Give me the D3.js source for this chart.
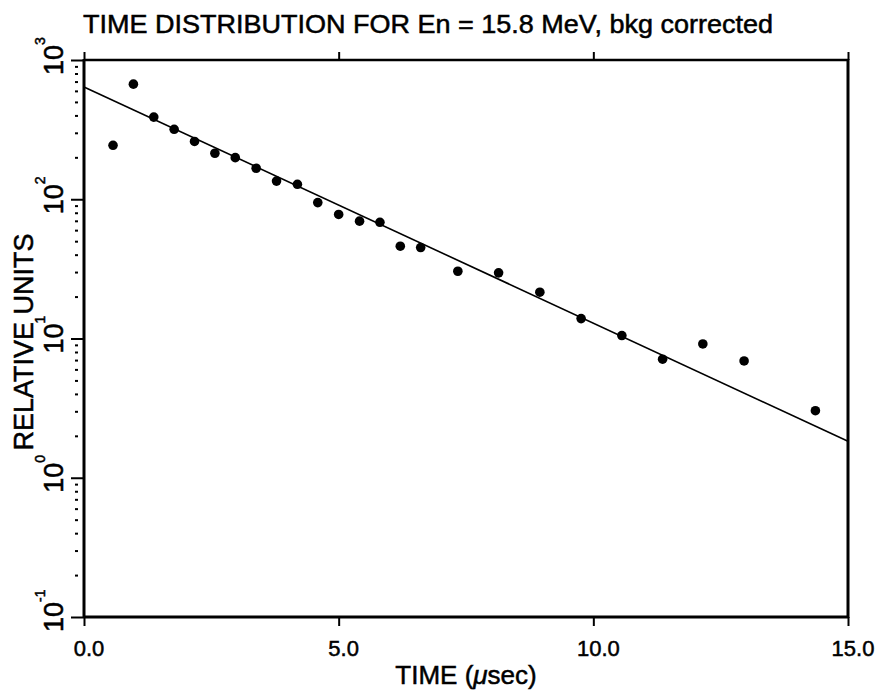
<!DOCTYPE html>
<html>
<head>
<meta charset="utf-8">
<script src="https://cdn.jsdelivr.net/npm/d3@7"></script>
<style>
  body { margin: 0; background: #fff; }
  text { font-family: "Liberation Sans", Arial, sans-serif; fill: #000; stroke: #000; stroke-width: 0.5px; }
</style>
</head>
<body>
<div id="chart"></div>
<script>
//measured points (time in usec, relative units)
var timeValues = [0.57, 0.97, 1.37, 1.77, 2.17, 2.57, 2.97, 3.38, 3.78, 4.19, 4.59, 5.00, 5.41,
  5.81, 6.21, 6.61, 7.34, 8.14, 8.95, 9.76, 10.56, 11.36, 12.15, 12.96, 14.36];
var countValues = [244, 671, 389, 318, 260, 214, 199, 167, 135, 128, 94.6, 77.8, 69.6,
  68.3, 46.0, 45.0, 30.4, 29.6, 21.5, 13.9, 10.5, 7.1, 9.14, 6.9, 3.03];

//exponential fit, end points
var fitTimes = [0, 15];
var fitValues = [640, 1.83];

//tick labels
var xTickValues = [0, 5, 10, 15];
var xTickLabels = ["0.0", "5.0", "10.0", "15.0"];
var yDecades = [0.1, 1, 10, 100, 1000];
var yExponents = ["-1", "0", "1", "2", "3"];

var svgWidth = 876;
var svgHeight = 692;

//plot frame
var x0 = 84, x1 = 848, y0 = 60, y1 = 617;

var svg = d3.select("#chart")
  .append("svg")
  .attr("width", svgWidth)
  .attr("height", svgHeight);

var xScale = d3.scaleLinear().domain([0, 15]).range([x0, x1]);
var yScale = d3.scaleLog().domain([0.1, 1000]).range([y1, y0]);

// bottom ticks
var bottomAxis = d3.axisBottom(xScale).tickValues(xTickValues).tickSize(9).tickFormat("");
svg.append("g")
  .attr("transform", `translate(0, ${y1})`)
  .call(bottomAxis)
  .call(g => g.select(".domain").remove())
  .selectAll("line").attr("stroke", "#000").attr("stroke-width", 2);

// top ticks
var topAxis = d3.axisTop(xScale).tickValues(xTickValues).tickSize(8).tickFormat("");
svg.append("g")
  .attr("transform", `translate(0, ${y0})`)
  .call(topAxis)
  .call(g => g.select(".domain").remove())
  .selectAll("line").attr("stroke", "#000").attr("stroke-width", 2);

// left major ticks
var leftAxis = d3.axisLeft(yScale).tickValues(yDecades).tickSize(13).tickFormat("");
svg.append("g")
  .attr("transform", `translate(${x0}, 0)`)
  .call(leftAxis)
  .call(g => g.select(".domain").remove())
  .selectAll("line").attr("stroke", "#000").attr("stroke-width", 2);

// left minor ticks, short marks off the axis
var minorValues = [];
yDecades.slice(0, 4).forEach(function(d) {
  for (var m = 2; m <= 9; m++) minorValues.push(d * m);
});
var minorAxis = d3.axisLeft(yScale).tickValues(minorValues).tickSize(9).tickFormat("");
svg.append("g")
  .attr("transform", `translate(${x0}, 0)`)
  .call(minorAxis)
  .call(g => g.select(".domain").remove())
  .selectAll("line")
  .attr("x1", -6)
  .attr("stroke", "#000")
  .attr("stroke-width", 2);

// frame
svg.append("line").attr("x1", x0).attr("x2", x1).attr("y1", y0).attr("y2", y0)
  .attr("stroke", "#000").attr("stroke-width", 2.5);
svg.append("line").attr("x1", x0).attr("x2", x1).attr("y1", y1).attr("y2", y1)
  .attr("stroke", "#000").attr("stroke-width", 3);
svg.append("line").attr("x1", x0).attr("x2", x0).attr("y1", y0 - 1).attr("y2", y1 + 1)
  .attr("stroke", "#000").attr("stroke-width", 3);
svg.append("line").attr("x1", x1).attr("x2", x1).attr("y1", y0 - 1).attr("y2", y1 + 1)
  .attr("stroke", "#000").attr("stroke-width", 3);

// x tick labels
svg.selectAll(".xlabel")
  .data(xTickValues)
  .enter()
  .append("text")
  .attr("class", "xlabel")
  .attr("x", d => xScale(d) + 5)
  .attr("y", 656)
  .attr("font-size", "22px")
  .attr("text-anchor", "middle")
  .text((d, i) => xTickLabels[i]);

// y tick labels, rotated 10^n
var yLabels = svg.selectAll(".ylabel")
  .data(yDecades)
  .enter()
  .append("g")
  .attr("class", "ylabel")
  .attr("transform", d => `translate(63, ${yScale(d)}) rotate(-90)`);

yLabels.append("text")
  .attr("x", 0)
  .attr("y", 0)
  .attr("font-size", "27px")
  .attr("text-anchor", "middle")
  .text("10");

yLabels.append("text")
  .attr("x", 15)
  .attr("y", -18)
  .attr("font-size", "14px")
  .text((d, i) => yExponents[i]);

// fit line
var fitLine = d3.line()
  .x(d => xScale(d[0]))
  .y(d => yScale(d[1]));

svg.append("path")
  .datum(fitTimes.map((t, i) => [t, fitValues[i]]))
  .attr("d", fitLine)
  .attr("fill", "none")
  .attr("stroke", "#000")
  .attr("stroke-width", 1.6);

// points
svg.selectAll("circle")
  .data(timeValues)
  .enter()
  .append("circle")
  .attr("cx", d => xScale(d))
  .attr("cy", (d, i) => yScale(countValues[i]))
  .attr("r", 4.8)
  .attr("fill", "#000");

// title
svg.append("text")
  .attr("x", 83)
  .attr("y", 33)
  .attr("font-size", "25px")
  .attr("textLength", 690)
  .attr("lengthAdjust", "spacingAndGlyphs")
  .text("TIME DISTRIBUTION FOR En = 15.8 MeV, bkg corrected");

// x axis title
var xTitle = svg.append("text")
  .attr("x", (x0 + x1) / 2)
  .attr("y", 684)
  .attr("font-size", "26px")
  .attr("text-anchor", "middle");
xTitle.append("tspan").text("TIME (");
xTitle.append("tspan").attr("font-style", "italic").text("\u03bc");
xTitle.append("tspan").text("sec)");

// y axis title
svg.append("text")
  .attr("transform", `translate(33, 342) rotate(-90)`)
  .attr("font-size", "27px")
  .attr("text-anchor", "middle")
  .text("RELATIVE UNITS");
</script>
</body>
</html>
